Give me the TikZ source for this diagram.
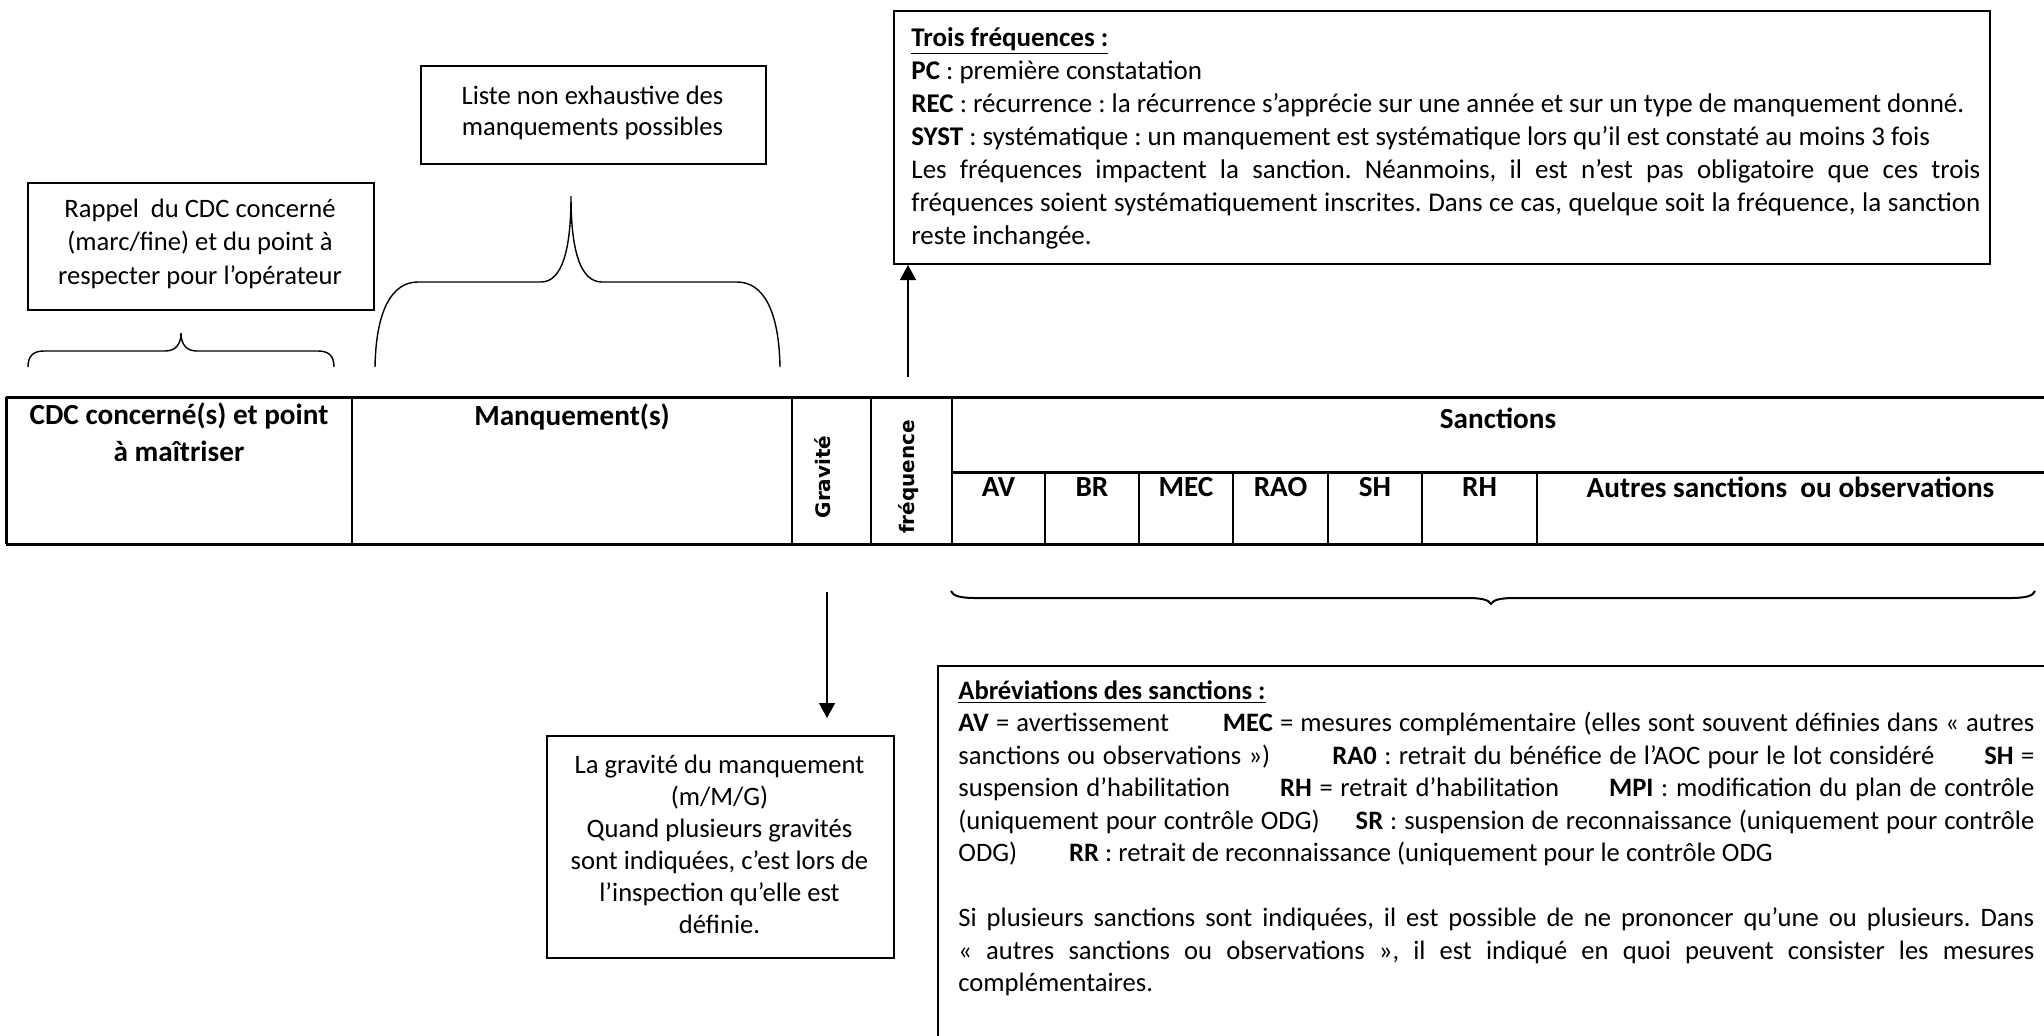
\documentclass[tikz,border=0pt]{standalone}
\usepackage{fontspec}
\setmainfont{Carlito}
\newfontfamily\dvs{DejaVu Sans}
\usetikzlibrary{arrows.meta}
\newcommand\setfs[2]{\fontsize{#1}{#2}\selectfont\hyphenpenalty=10000\exhyphenpenalty=10000\frenchspacing}
\newcommand\jline[1]{\makebox[\linewidth][s]{#1}\par}
\newcommand\oline[1]{\mbox{#1}\par}
\begin{document}
\begin{tikzpicture}[x=0.5pt,y=-0.5pt,
  box/.style={draw, line width=1pt, inner sep=0pt, anchor=north west},
  para/.style={inner sep=0pt, anchor=base west, align=justify},
  ctr/.style={inner sep=0pt, align=center},
  hd/.style={inner sep=0pt, align=center, font=\setfs{14.6}{18.3}\bfseries},
  rot/.style={inner sep=0pt, rotate=90, font=\dvs\bfseries\fontsize{10}{12}\selectfont},
  hline/.style={line width=1.5pt},
  vline/.style={line width=0.9pt},
  brace/.style={line width=0.7pt},
  arr/.style={line width=0.8pt, -{Triangle[width=8pt,length=7.5pt]}}]
\clip (0,0) rectangle (2044,1035);
\fill[white] (0,0) rectangle (2044,1035);

% ---------- boxes ----------
\node[box, minimum width=548pt, minimum height=126.5pt] (topbox) at (893,10) {};
\node[box, minimum width=172.5pt, minimum height=49pt] (listebox) at (420,65) {};
\node[box, minimum width=173pt, minimum height=63.5pt] (rappelbox) at (27,182) {};
\node[box, minimum width=173.5pt, minimum height=111pt] (gravbox) at (546,735) {};
\node[box, minimum width=561.5pt, minimum height=192.5pt] (abbox) at (937,665) {};

% ---------- box texts ----------
\node[para, text width=534.5pt, font=\setfs{13.5}{16.5}] (toptxt) at (911,46) {%
\oline{\bfseries\underline{Trois fréquences :}}
\oline{{\bfseries PC} : première constatation}
\oline{{\bfseries REC} : récurrence : la récurrence s’apprécie sur une année et sur un type de manquement donné.}
\oline{{\bfseries SYST} : systématique : un manquement est systématique lors qu’il est constaté au moins 3 fois}
\jline{Les fréquences impactent la sanction. Néanmoins, il est n’est pas obligatoire que ces trois}
\jline{fréquences soient systématiquement inscrites. Dans ce cas, quelque soit la fréquence, la sanction}
\oline{reste inchangée.}};

\node[ctr, font=\setfs{13.3}{15.5}] (listetxt) at (592.5,112.5) {Liste non exhaustive des\\manquements possibles};
\node[ctr, font=\setfs{13.3}{16.7}] (rappeltxt) at (200,243.5) {Rappel\ \ du CDC concerné\\(marc/fine) et du point à\\respecter pour l’opérateur};
\node[ctr, font=\setfs{13.3}{16}] (gravtxt) at (719.5,844) {La gravité du manquement\\(m/M/G)\\Quand plusieurs gravités\\sont indiquées, c’est lors de\\l’inspection qu’elle est\\définie.};

\node[para, text width=538pt, font=\setfs{13.3}{16.25}] (abtxt) at (958,699) {%
\oline{\bfseries\underline{Abréviations des sanctions :}}
\jline{{\bfseries AV} = avertissement\hspace{27pt minus 20pt}{\bfseries MEC} = mesures complémentaire (elles sont souvent définies dans «~autres}
\jline{sanctions ou observations~»)\hspace{31pt minus 20pt}{\bfseries RA0} : retrait du bénéfice de l’AOC pour le lot considéré\hspace{25pt minus 18pt}{\bfseries SH} =}
\jline{suspension d’habilitation\hspace{25pt minus 18pt}{\bfseries RH} = retrait d’habilitation\hspace{25pt minus 18pt}{\bfseries MPI} : modification du plan de contrôle}
\jline{(uniquement pour contrôle ODG)\hspace{18pt minus 12pt}{\bfseries SR} : suspension de reconnaissance (uniquement pour contrôle}
\oline{ODG)\hspace{26pt}{\bfseries RR} : retrait de reconnaissance (uniquement pour le contrôle ODG}
\vspace{16.25pt}
\jline{Si plusieurs sanctions sont indiquées, il est possible de ne prononcer qu’une ou plusieurs. Dans}
\jline{«~autres sanctions ou observations~», il est indiqué en quoi peuvent consister les mesures}
\oline{complémentaires.}};

% ---------- table ----------
\draw[hline] (6,397) -- (2060,397);
\draw[hline] (6,544) -- (2060,544);
\draw[hline] (952,472) -- (2060,472);
\draw[hline] (6,397) -- (6,544);
\foreach \cx in {352,792,871,952} \draw[vline] (\cx,397) -- (\cx,544);
\foreach \cx in {1045,1139,1233,1328,1422,1537} \draw[vline] (\cx,472) -- (\cx,544);

\node[hd] (cdc) at (179,432) {CDC concerné(s) et point\\à maîtriser};
\node[hd] (manq) at (572,417) {Manquement(s)};
\node[rot] (grav) at (823,477) {Gravité};
\node[rot] (freq) at (909,477) {fréquence};
\node[hd] (sanc) at (1498,418) {Sanctions};
\node[hd] (av) at (998.5,487) {AV};
\node[hd] (br) at (1092,487) {BR};
\node[hd] (mec) at (1186,487) {MEC};
\node[hd] (rao) at (1280.5,487) {RAO};
\node[hd] (sh) at (1375,487) {SH};
\node[hd] (rh) at (1479.5,487) {RH};
\node[hd] (autres) at (1790.5,487) {Autres sanctions\ \ ou observations};

% ---------- braces ----------
\draw[brace] (28,367) .. controls (28,356) and (33,351) .. (44,351) -- (165,351)
  .. controls (175,351) and (181,345) .. (181,333)
  .. controls (181,345) and (187,351) .. (197,351) -- (318,351)
  .. controls (329,351) and (334,356) .. (334,367);
\draw[brace] (375,367) .. controls (376,310) and (392,282) .. (418,282) -- (541,282)
  .. controls (562,282) and (571,250) .. (571,196)
  .. controls (571,250) and (580,282) .. (602,282) -- (737,282)
  .. controls (763,282) and (779,310) .. (780,367);
\draw[line width=1pt] (951,591) .. controls (953,596) and (960,598) .. (976,598) -- (1468,598)
  .. controls (1482,598) and (1489,600) .. (1491,604)
  .. controls (1493,600) and (1500,598) .. (1514,598) -- (2010,598)
  .. controls (2026,598) and (2033,596) .. (2035,591);

% ---------- arrows ----------
\coordinate (fa) at (908,377);
\draw[arr] (fa) -- (fa |- topbox.south);
\coordinate (ga) at (827,592);
\coordinate (gb) at (827,718);
\draw[arr] (ga) -- (gb);
\end{tikzpicture}
\end{document}
